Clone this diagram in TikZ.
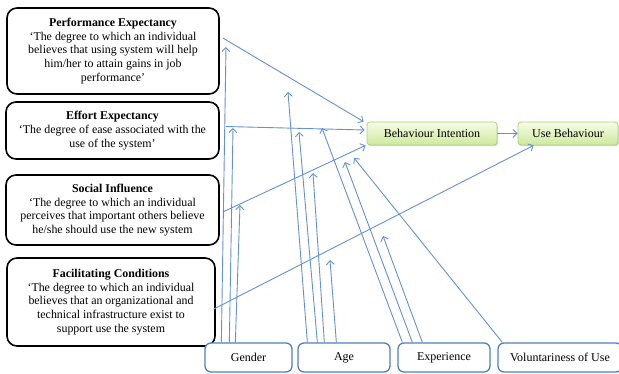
\documentclass[tikz,border=0pt]{standalone}
\usepackage{fontspec}
\setmainfont{Liberation Serif}
\usetikzlibrary{positioning, shapes.geometric, arrows.meta, shadows}

\definecolor{linkblue}{RGB}{100,145,208}
\definecolor{boxblue}{RGB}{79,129,189}
\definecolor{greentop}{RGB}{246,252,230}
\definecolor{greenbot}{RGB}{206,233,158}
\definecolor{greenline}{RGB}{172,212,122}

\tikzset{
  construct/.style={draw=black, line width=1.6pt, rounded corners=10pt, align=center,
    inner sep=0pt, font=\fontsize{11.9}{13.6}\selectfont},
  outcome/.style={draw=greenline, line width=0.8pt, rounded corners=3pt,
    top color=greentop, bottom color=greenbot, minimum height=23pt, inner sep=0pt,
    drop shadow={shadow xshift=0.8pt, shadow yshift=-1.2pt, fill=black!30},
    font=\fontsize{12}{13}\selectfont},
  moderator/.style={draw=boxblue, line width=1.3pt, rounded corners=6pt, fill=white,
    minimum height=29pt, inner sep=0pt, font=\fontsize{12}{13}\selectfont},
  link/.style={draw=linkblue, line width=0.9pt, -{Straight Barb[length=4pt,width=8pt]}}
}

\begin{document}
\begin{tikzpicture}[x=1pt, y=-1pt]
  \useasboundingbox (0,0) rectangle (619,374);

  % the four constructs
  \node[construct, minimum width=212pt, minimum height=86pt] (pe) at (113,51)
    {\textbf{Performance Expectancy}\\‘The degree to which an individual\\believes that using system will help\\him/her to attain gains in job\\performance’};
  \node[construct, minimum width=213pt, minimum height=57pt] (ee) at (112.5,130.5)
    {\textbf{Effort Expectancy}\\‘The degree of ease associated with the\\use of the system’};
  \node[construct, minimum width=213pt, minimum height=70pt] (si) at (112.5,210)
    {\textbf{Social Influence}\\‘The degree to which an individual\\perceives that important others believe\\he/she should use the new system};
  \node[construct, minimum width=208pt, minimum height=88pt] (fc) at (111,302)
    {\textbf{Facilitating Conditions}\\‘The degree to which an individual\\believes that an organizational and\\technical infrastructure exist to\\support use the system};

  % intention and behaviour
  \node[outcome, minimum width=130pt] (bi) at (432,133.5) {Behaviour Intention};
  \node[outcome, minimum width=100pt] (ub) at (568,133.5) {Use Behaviour};

  % moderators
  \node[moderator, minimum width=87pt] (gender) at (248.5,357.5) {Gender};
  \node[moderator, minimum width=92pt] (age) at (344,357.5) {Age};
  \node[moderator, minimum width=92pt] (exp) at (444,357.5) {Experience};
  \node[moderator, minimum width=124pt] (vol) at (560,357.5) {Voluntariness of Use};

  % main paths
  \draw[link] ([xshift=3pt,yshift=13pt]pe.east) -- ([xshift=-3pt]bi.north west);
  \draw[link] ([xshift=6pt,yshift=4pt]ee.east) -- ([xshift=-2pt,yshift=3.5pt]bi.west);
  \draw[link] ([xshift=3pt,yshift=-2pt]si.east) -- ([xshift=-1pt]bi.south west);
  \draw[link] ([xshift=-2pt,yshift=-7pt]fc.east) -- ([xshift=16pt]ub.south west);
  \draw[link] (bi) -- (ub);

  % ends of the moderating paths
  \coordinate (g1) at (226,47);  \coordinate (g2) at (233,128); \coordinate (g3) at (240,205);
  \coordinate (a1) at (288,92);  \coordinate (a2) at (299,132); \coordinate (a3) at (313,173);
  \coordinate (a4) at (330,260);
  \coordinate (e1) at (322,128); \coordinate (e2) at (345,162); \coordinate (e3) at (383,236);
  \coordinate (v1) at (354,158);

  \draw[link] ([xshift=17pt]gender.north west) -- (g1);
  \draw[link] ([xshift=25pt]gender.north west) -- (g2);
  \draw[link] ([xshift=31pt]gender.north west) -- (g3);
  \draw[link] ([xshift=10pt]age.north west) -- (a1);
  \draw[link] ([xshift=20pt]age.north west) -- (a2);
  \draw[link] ([xshift=27pt]age.north west) -- (a3);
  \draw[link] ([xshift=39pt]age.north west) -- (a4);
  \draw[link] ([xshift=5pt]exp.north west) -- (e1);
  \draw[link] ([xshift=15pt]exp.north west) -- (e2);
  \draw[link] ([xshift=25pt]exp.north west) -- (e3);
  \draw[link] ([xshift=5pt]vol.north west) -- (v1);
\end{tikzpicture}
\end{document}
